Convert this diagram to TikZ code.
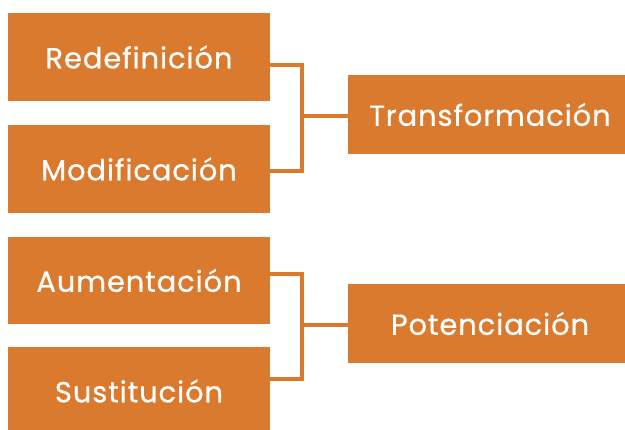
\documentclass[tikz,border=0pt]{standalone}
\usepackage{fontspec}
\setmainfont{Poppins}[LetterSpace=3,FakeBold=0.6]
\definecolor{boxor}{HTML}{DA7A2F}
\begin{document}
\begin{tikzpicture}[x=1pt,y=-1pt,
  box/.style={fill=boxor, text=white, inner sep=0pt, font=\fontsize{29}{34}\selectfont},
  conn/.style={draw=boxor, line width=4pt}]
\useasboundingbox (0,0) rectangle (625,430);
\clip (0,0) rectangle (625,430);
\node[box, minimum width=262pt, minimum height=88pt] (red) at (139,57) {Redefinición};
\node[box, minimum width=262pt, minimum height=88pt] (mod) at (139,169) {Modificación};
\node[box, minimum width=262pt, minimum height=87pt] (aum) at (139,280.5) {Aumentación};
\node[box, minimum width=262pt, minimum height=88pt] (sus) at (139,391) {Sustitución};
\node[box, minimum width=284pt, minimum height=79pt] (trans) at (490,114.5) {Transformación};
\node[box, minimum width=284pt, minimum height=79pt] (pot) at (490,323.5) {Potenciación};
\coordinate (j1) at (302,116);
\coordinate (j2) at (302,325.5);
\draw[conn] (red.east |- 0,65) -| (j1) |- (mod.east |- 0,171);
\draw[conn] (j1) -- (trans.west |- j1);
\draw[conn] (aum.east |- 0,274.5) -| (j2) |- (sus.east |- 0,379);
\draw[conn] (j2) -- (pot.west |- j2);
\end{tikzpicture}
\end{document}
